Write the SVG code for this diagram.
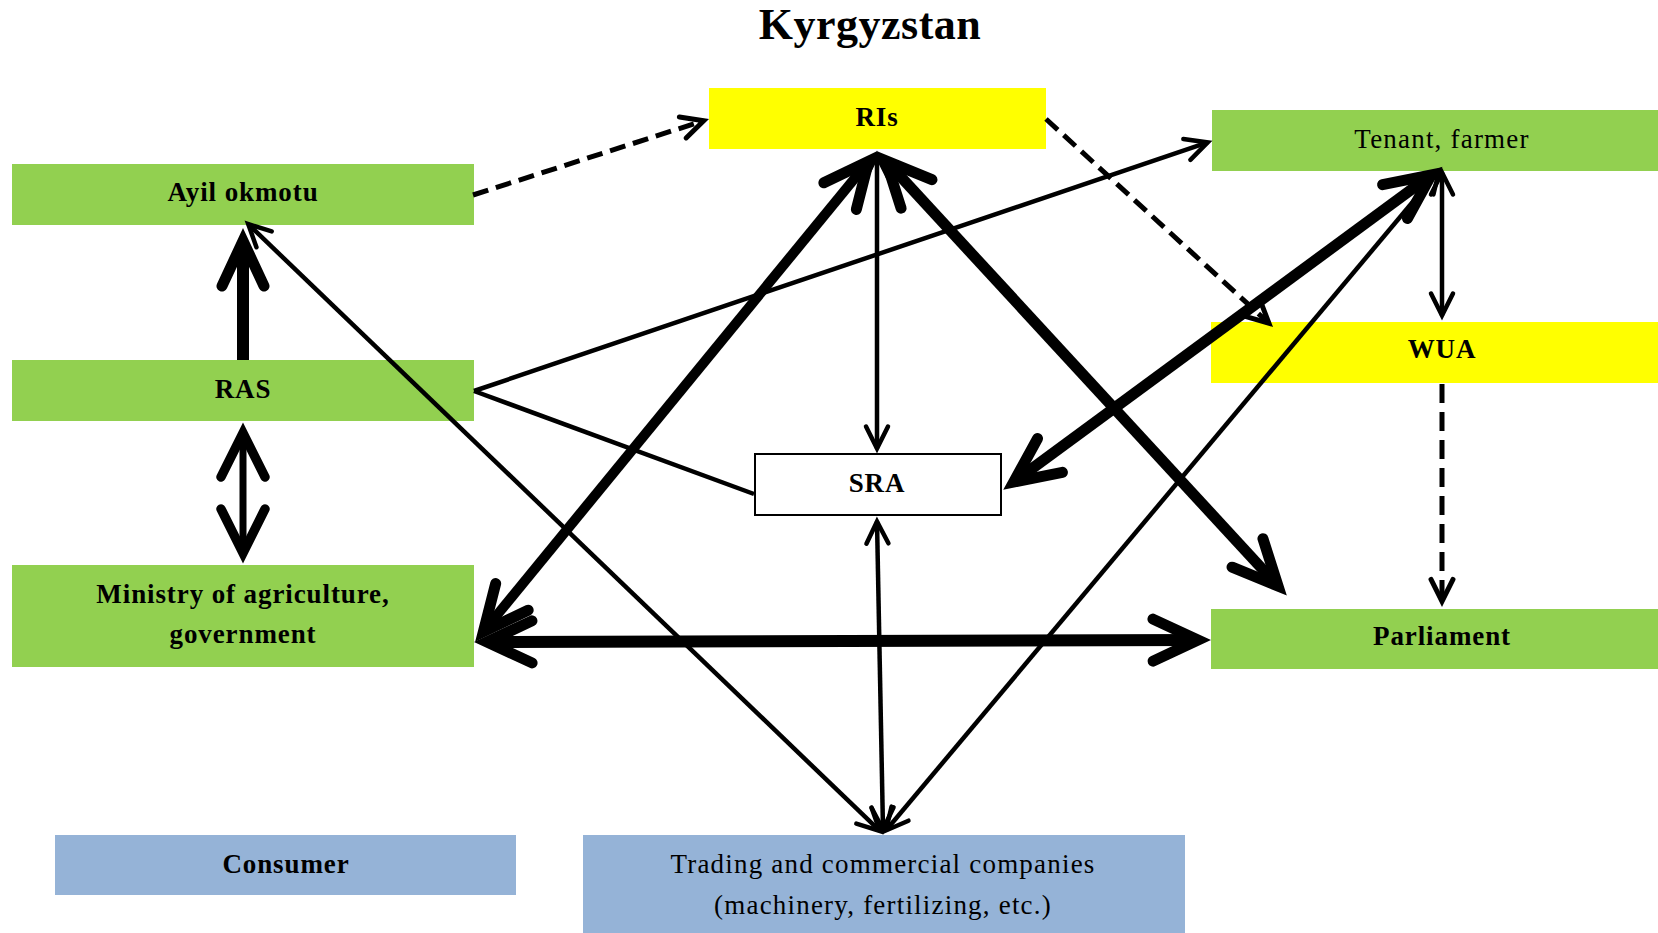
<svg xmlns="http://www.w3.org/2000/svg" width="1658" height="933" viewBox="0 0 1658 933">
<style>
  .g { fill: #92D050; }
  .y { fill: #FFFF00; }
  .b { fill: #95B3D7; }
  .w { fill: #FFFFFF; stroke: #000; stroke-width: 2; }
  text { font-family: "Liberation Serif", "Times New Roman", serif; font-size: 27px; fill: #000; text-anchor: middle; letter-spacing: 1.2px; }
  .bold { font-weight: bold; letter-spacing: 0.9px; }
  .title { font-size: 44px; font-weight: bold; letter-spacing: 0.5px; }
  .c { fill: none; stroke: #000; }
  .thin { stroke-width: 4.5; }
  .dash { stroke-width: 5; stroke-dasharray: 16 8; }
  .dashv { stroke-width: 5; stroke-dasharray: 19 9; }
</style>
<defs>
  <marker id="mThin" markerUnits="userSpaceOnUse" markerWidth="60" markerHeight="60" viewBox="-40 -30 60 60" refX="0" refY="0" orient="auto-start-reverse" overflow="visible">
    <path d="M -22 -11 L 0 0 L -22 11" fill="none" stroke="#000" stroke-width="4.5" stroke-linecap="round" stroke-linejoin="miter"/>
  </marker>
  <marker id="mDash" markerUnits="userSpaceOnUse" markerWidth="60" markerHeight="60" viewBox="-40 -30 60 60" refX="0" refY="0" orient="auto-start-reverse" overflow="visible">
    <path d="M -22 -11 L 0 0 L -22 11" fill="none" stroke="#000" stroke-width="5" stroke-linecap="round" stroke-linejoin="miter"/>
  </marker>
  <marker id="mMed" markerUnits="userSpaceOnUse" markerWidth="120" markerHeight="120" viewBox="-80 -60 120 120" refX="0" refY="0" orient="auto-start-reverse" overflow="visible">
    <path d="M -44 -22 L 0 0 L -44 22" fill="none" stroke="#000" stroke-width="9.5" stroke-linecap="round" stroke-linejoin="miter"/>
  </marker>
  <marker id="mThick" markerUnits="userSpaceOnUse" markerWidth="120" markerHeight="120" viewBox="-80 -60 120 120" refX="0" refY="0" orient="auto-start-reverse" overflow="visible">
    <path d="M -45 -21 L 0 0 L -45 21" fill="none" stroke="#000" stroke-width="11" stroke-linecap="round" stroke-linejoin="miter"/>
  </marker>
</defs>
<rect width="1658" height="933" fill="#FFFFFF"/>
<text class="title" x="870" y="39">Kyrgyzstan</text>

<g id="node-ris"><rect class="y" x="709" y="88" width="337" height="61"/><text class="bold" x="877" y="126">RIs</text></g>
<g id="node-ayil"><rect class="g" x="12" y="164" width="462" height="61"/><text class="bold" x="243" y="201">Ayil okmotu</text></g>
<g id="node-tenant"><rect class="g" x="1212" y="110" width="446" height="61"/><text x="1442" y="148">Tenant, farmer</text></g>
<g id="node-wua"><rect class="y" x="1211" y="322" width="447" height="61"/><text class="bold" x="1442" y="358">WUA</text></g>
<g id="node-ras"><rect class="g" x="12" y="360" width="462" height="61"/><text class="bold" x="243" y="398">RAS</text></g>
<g id="node-sra"><rect class="w" x="755" y="454" width="246" height="61"/><text class="bold" x="877" y="492">SRA</text></g>
<g id="node-ministry"><rect class="g" x="12" y="565" width="462" height="102"/><text class="bold" x="243" y="603">Ministry of agriculture,</text><text class="bold" x="243" y="643">government</text></g>
<g id="node-parliament"><rect class="g" x="1211" y="609" width="447" height="60"/><text class="bold" x="1442" y="645">Parliament</text></g>
<g id="node-consumer"><rect class="b" x="55" y="835" width="461" height="60"/><text class="bold" x="286" y="873">Consumer</text></g>
<g id="node-trading"><rect class="b" x="583" y="835" width="602" height="98"/><text x="883" y="873">Trading and commercial companies</text><text x="883" y="914">(machinery, fertilizing, etc.)</text></g>

<g id="connectors">
  <path class="c" style="stroke-width:12" d="M243 360 L243 241" marker-end="url(#mThick)"/>
  <path class="c" style="stroke-width:7" d="M243 433 L243 553" marker-start="url(#mMed)" marker-end="url(#mMed)"/>
  <path class="c" style="stroke-width:12" d="M487 642 L1198 640" marker-start="url(#mThick)" marker-end="url(#mThick)"/>
  <path class="c" style="stroke-width:10" d="M868.6 161.3 L483.4 631.7" marker-start="url(#mThick)" marker-end="url(#mThick)"/>
  <path class="c" style="stroke-width:11" d="M886 160.8 L1278 586" marker-start="url(#mThick)" marker-end="url(#mThick)"/>
  <path class="c" style="stroke-width:11" d="M1431.3 174.9 L1013.7 482.1" marker-start="url(#mThick)" marker-end="url(#mThick)"/>
  <path class="c thin" d="M877 155.5 L877 448.5" marker-start="url(#mThin)" marker-end="url(#mThin)"/>
  <path class="c thin" d="M877 521.5 L883 829.5" marker-start="url(#mThin)" marker-end="url(#mThin)"/>
  <path class="c thin" d="M1442 172.5 L1442 315.5" marker-start="url(#mThin)" marker-end="url(#mThin)"/>
  <path class="c thin" d="M1439.1 170.5 L885.9 830.5" marker-start="url(#mThin)" marker-end="url(#mThin)"/>
  <path class="c thin" d="M248.2 224.1 L879.8 830.9" marker-start="url(#mThin)" marker-end="url(#mThin)"/>
  <path class="c thin" d="M474 391 L1207.7 142.4" marker-end="url(#mThin)"/>
  <path class="c thin" d="M474 391 L754 494"/>
  <path class="c dash" d="M473 195 L703.7 120.7" marker-end="url(#mDash)"/>
  <path class="c dash" d="M1046 119 L1268.9 323.2" marker-end="url(#mDash)"/>
  <path class="c dashv" d="M1442 384 L1442 601.4" marker-end="url(#mDash)"/>
</g>
</svg>
